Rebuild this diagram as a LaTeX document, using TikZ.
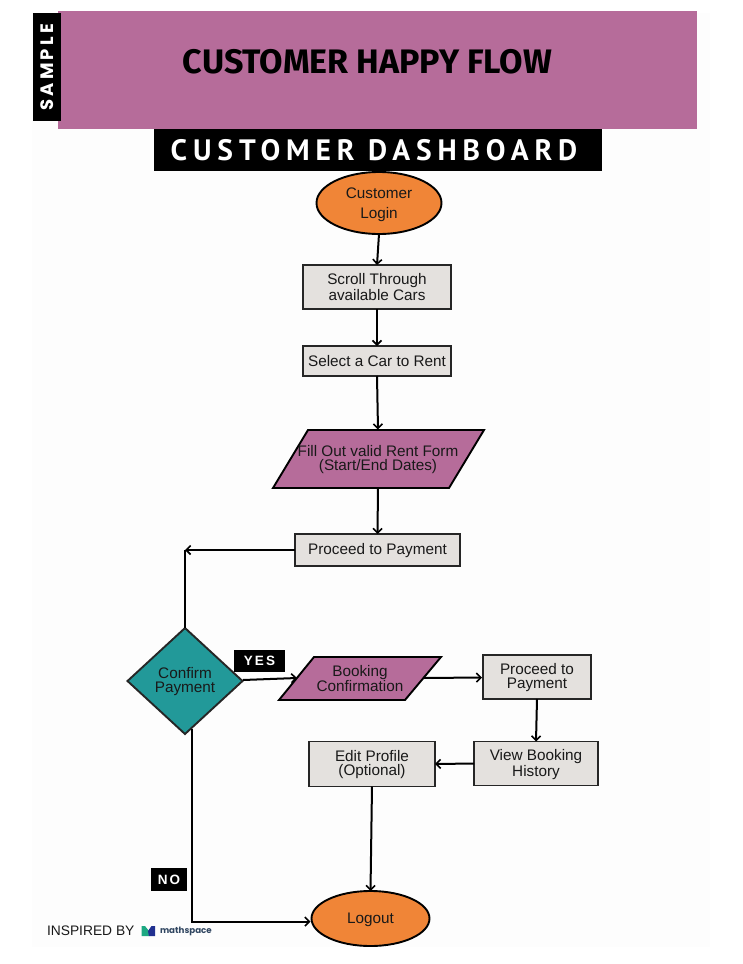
\documentclass[tikz,border=0pt]{standalone}
\usepackage{fontspec}
\setmainfont{Liberation Sans}
\newfontfamily\titlefont{Fira Sans}
\newfontfamily\dashfont[LetterSpace=20]{PT Sans}
\newfontfamily\tagfont[LetterSpace=15]{Liberation Sans}
\newfontfamily\samplefont[LetterSpace=18]{Poppins}
\newfontfamily\logofont{Poppins}
\usetikzlibrary{shapes.geometric,arrows.meta}
\definecolor{plum}{HTML}{B66C9A}
\definecolor{boxgrey}{HTML}{E4E1DE}
\definecolor{orangefill}{HTML}{F08537}
\definecolor{tealfill}{HTML}{229999}
\definecolor{sheet}{HTML}{FDFDFD}
\definecolor{navy}{HTML}{2F4560}
\newcommand\Tx[2][14]{\vbox{\offinterlineskip\let\\\cr\halign{\hfil\vrule height\dimexpr#1pt/2+5.5pt\relax depth\dimexpr#1pt/2-5.5pt\relax width0pt ##\hfil\cr #2\crcr}}}
\tikzset{
  every node/.style={inner sep=0pt,outer sep=0pt},
  bodytext/.style={font=\fontsize{15.3}{14}\selectfont,text=black!90},
  procbox/.style={bodytext,draw=black!85,line width=1.9pt,fill=boxgrey},
  terminal/.style={bodytext,ellipse,draw=black,line width=1.9pt,fill=orangefill},
  decision/.style={bodytext,diamond,aspect=1.1,draw=black!85,line width=1.9pt,fill=tealfill},
  slanted/.style={draw=black,line width=1.9pt,fill=plum,line join=miter},
  slanttext/.style={bodytext},
  tag/.style={fill=black,text=white,font=\tagfont\bfseries\fontsize{13.5}{14}\selectfont},
  flow/.style={draw=black,line width=2pt,-{Straight Barb[length=4.5pt,width=9pt,line width=1.6pt]}},
  plainflow/.style={draw=black,line width=2pt},
}
\begin{document}
\begin{tikzpicture}[x=1pt,y=-1pt]
\useasboundingbox (0,0) rectangle (742,964);
\fill[white] (0,0) rectangle (742,964);
\fill[sheet] (32,13) rectangle (710,947);
% header
\fill[plum] (58,11) rectangle (697,129);
\node[font=\titlefont\bfseries\fontsize{34}{36}\selectfont,text=black] (title) at (367.5,62) {CUSTOMER HAPPY FLOW};
\fill[black] (32.5,13) rectangle (61,121);
\node[rotate=90,text=white,font=\samplefont\bfseries\fontsize{18}{20}\selectfont] (sample) at (47,67.5) {SAMPLE};
\fill[black] (154,128.5) rectangle (602,171);
\node[text=white,font=\dashfont\bfseries\fontsize{29.5}{32}\selectfont] (dash) at (374,150.5) {CUSTOMER DASHBOARD};
% main column
\node[terminal,minimum width=125,minimum height=62,font=\fontsize{15.3}{20}\selectfont] (login) at (379,203) {\Tx[20]{Customer\\Login}};
\node[procbox,minimum width=148,minimum height=44] (scroll) at (377,287) {\Tx{Scroll Through\\available Cars}};
\node[procbox,minimum width=148,minimum height=30] (select) at (377,361) {\Tx{Select a Car to Rent}};
\draw[slanted] (308,430) -- (484,430) -- (449,488) -- (273,488) -- cycle;
\node[slanttext,minimum width=150,minimum height=58] (form) at (378,458.5) {\Tx{Fill Out valid Rent Form\\(Start/End Dates)}};
\node[procbox,minimum width=165,minimum height=32] (pay) at (377.5,550) {\Tx{Proceed to Payment}};
\node[decision,minimum width=115,minimum height=106] (confirm) at (185,681) {\Tx{Confirm\\Payment}};
\draw[slanted] (314,657) -- (441,657) -- (405,700) -- (279,700) -- cycle;
\node[slanttext,minimum width=90,minimum height=43] (booking) at (360,678.5) {\Tx{Booking\\Confirmation}};
\node[procbox,minimum width=108,minimum height=44] (pay2) at (537,677) {\Tx{Proceed to\\Payment}};
\node[procbox,minimum width=124,minimum height=44] (history) at (536,763.5) {\Tx{View Booking\\History}};
\node[procbox,minimum width=126,minimum height=45] (edit) at (372,764) {\Tx{Edit Profile\\(Optional)}};
\node[terminal,minimum width=118,minimum height=55] (logout) at (370.5,918.5) {\Tx{Logout}};
% tags
\node[tag,minimum width=51,minimum height=22] (yes) at (259.5,661) {YES};
\node[tag,minimum width=36.5,minimum height=23] (no) at (169,879.5) {NO};
% connector helpers
\coordinate (corner) at (185,550);
\coordinate (noout) at (191.5,729);
\coordinate (logoutin) at (310.5,921.5);
\coordinate (yesin) at (297,678);
\coordinate (yesout) at (243,680);
\coordinate (bookout) at (423,678);
\coordinate (pay2in) at (482,677.5);
% connectors
\draw[flow] (login.south) -- (scroll.north);
\draw[flow] (scroll.south) -- (select.north);
\draw[flow] (select.south) -- (form.north);
\draw[flow] (form.south) -- (pay.north);
\draw[flow] (pay.west) -- (corner);
\draw[plainflow] (confirm.north) -- (corner);
\draw[flow] (yesout) -- (yesin);
\draw[flow] (bookout) -- (pay2in);
\draw[flow] (pay2.south) -- (history.north);
\draw[flow] (history.west) -- (edit.east);
\draw[flow] (edit.south) -- (logout.north);
\draw[flow] (noout) |- (logoutin);
% footer
\node[anchor=west,font=\fontsize{13.8}{16}\selectfont,text=black!90] (inspired) at (47,930.5) {INSPIRED BY};
\fill[tealfill!85!green] (141.5,926) -- (145,926) -- (149,931) -- (149,936) -- (141.5,936) -- cycle;
\fill[navy!70!blue] (155,926) -- (151.5,926) -- (148,931) -- (149,936) -- (155,936) -- cycle;
\node[anchor=west,text=navy,font=\logofont\bfseries\fontsize{8.7}{10}\selectfont] (math) at (160,931.5) {mathspace};
\end{tikzpicture}
\end{document}
